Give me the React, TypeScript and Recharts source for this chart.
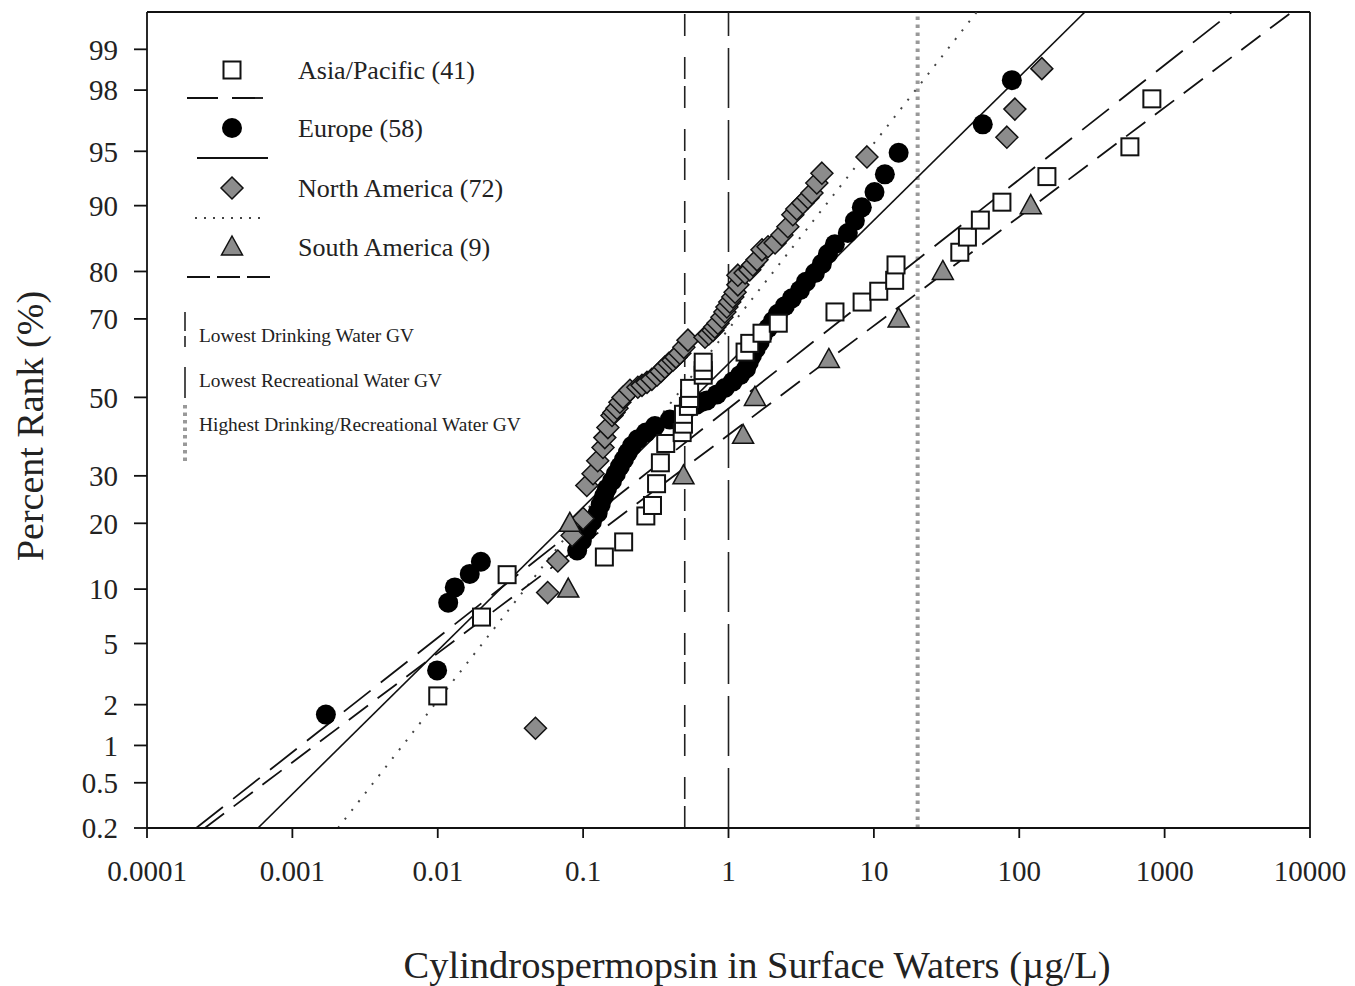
import React from 'react'
import { ComposedChart, XAxis, YAxis, Scatter, Line, ReferenceLine, Label } from 'recharts'

const SERIF = '"Liberation Serif", "Times New Roman", serif'

// concentration (µg/L) and percent rank (%) per region
const asiaConc = [0.01, 0.02, 0.03, 0.14, 0.19, 0.27, 0.3, 0.32, 0.34, 0.37, 0.48, 0.49, 0.49, 0.53, 0.54, 0.54, 0.67, 0.67, 0.67, 1.3, 1.4, 1.7, 2.2, 5.4, 8.3, 10.8, 13.9, 14.2, 39, 44, 54, 76, 155, 577, 817]
const asiaRank = [2.3, 7.1, 11.8, 14.3, 16.7, 21.4, 23.5, 28.2, 33.1, 37.9, 40.7, 42.9, 45.5, 47.6, 49.7, 52.4, 55.9, 57.1, 59.3, 61.9, 64.1, 66.6, 69.0, 71.6, 73.8, 76.1, 78.3, 81.2, 83.4, 85.8, 88.2, 90.4, 93.0, 95.3, 97.7]

const europeConc = [0.0017, 0.0099, 0.0118, 0.0131, 0.0166, 0.0198, 0.091, 0.098, 0.106, 0.115, 0.126, 0.132, 0.139, 0.146, 0.158, 0.168, 0.179, 0.191, 0.203, 0.217, 0.238, 0.27, 0.312, 0.395, 0.493, 0.543, 0.6, 0.65, 0.71, 0.832, 0.944, 1.07, 1.2, 1.32, 1.38, 1.45, 1.54, 1.64, 1.72, 1.87, 2.02, 2.19, 2.44, 2.73, 3.1, 3.41, 3.93, 4.39, 4.83, 5.39, 6.62, 7.4, 8.26, 10.1, 11.9, 14.8, 56.1, 88.9]
const europeRank = [1.7, 3.4, 8.5, 10.2, 11.9, 13.6, 15.3, 16.9, 18.6, 20.3, 22.0, 23.7, 25.4, 27.1, 28.8, 30.5, 32.2, 33.9, 35.6, 37.3, 39.0, 40.7, 42.4, 44.1, 45.8, 47.5, 48.0, 48.7, 49.2, 50.8, 52.5, 54.2, 55.9, 57.6, 59.3, 61.0, 62.7, 64.4, 66.1, 67.8, 69.5, 71.2, 72.9, 74.6, 76.3, 78.0, 79.7, 81.4, 83.1, 84.7, 86.4, 88.1, 89.8, 91.5, 93.2, 94.9, 96.6, 98.3]

const naConc = [0.047, 0.057, 0.067, 0.084, 0.1, 0.106, 0.117, 0.126, 0.137, 0.141, 0.148, 0.158, 0.163, 0.171, 0.179, 0.188, 0.21, 0.238, 0.254, 0.275, 0.297, 0.322, 0.343, 0.365, 0.389, 0.415, 0.435, 0.463, 0.493, 0.526, 0.689, 0.733, 0.782, 0.805, 0.845, 0.901, 0.944, 0.975, 1.02, 1.07, 1.11, 1.16, 1.16, 1.3, 1.4, 1.47, 1.57, 1.7, 1.87, 2.09, 2.33, 2.56, 2.77, 2.95, 3.25, 3.52, 3.75, 4.05, 4.39, 8.96, 82.2, 93.3, 143]
const naRank = [1.35, 9.6, 13.7, 17.8, 20.9, 27.8, 30.5, 33.6, 36.9, 39.4, 42.0, 45.2, 46.0, 47.1, 48.7, 50.0, 51.9, 52.7, 53.2, 54.0, 54.8, 55.9, 56.9, 58.0, 59.0, 59.8, 60.6, 61.6, 63.1, 64.9, 65.6, 66.4, 67.3, 68.1, 69.0, 70.4, 71.6, 72.7, 73.8, 74.9, 75.9, 77.4, 79.3, 79.7, 80.3, 81.2, 82.1, 83.8, 84.3, 84.9, 86.1, 87.3, 88.9, 89.6, 90.3, 90.9, 91.4, 92.4, 93.3, 94.6, 95.9, 97.3, 98.6]

const saConc = [0.079, 0.081, 0.49, 1.26, 1.52, 4.9, 14.8, 29.8, 120]
const saRank = [10, 20, 30, 40, 50, 60, 70, 80, 90]

// fitted lines, end points at the bottom and top of the axis
const fitRank = [0.2, 99.5]
const asiaFitConc = [0.000218, 2900]
const europeFitConc = [0.00058, 283]
const naFitConc = [0.00206, 51]
const saFitConc = [0.00025, 7500]

// guideline values (µg/L)
const GV_DRINKING_LOW = 0.5
const GV_RECREATIONAL_LOW = 1
const GV_HIGHEST = 20

const concTicks = [0.0001, 0.001, 0.01, 0.1, 1, 10, 100, 1000, 10000]
const concTickLabels = ['0.0001', '0.001', '0.01', '0.1', '1', '10', '100', '1000', '10000']
const rankTicks = [0.2, 0.5, 1, 2, 5, 10, 20, 30, 50, 70, 80, 90, 95, 98, 99]
const RANK_MIN = 0.2
const RANK_MAX = 99.5

// inverse standard normal (Acklam), percent -> z
function probit(pct: number) {
  const p = pct / 100
  const a = [-39.69683028665376, 220.9460984245205, -275.9285104469687, 138.357751867269, -30.66479806614716, 2.506628277459239]
  const b = [-54.47609879822406, 161.5858368580409, -155.6989798598866, 66.80131188771972, -13.28068155288572]
  const c = [-0.007784894002430293, -0.3223964580411365, -2.400758277161838, -2.549732539343734, 4.374664141464968, 2.938163982698783]
  const d = [0.007784695709041462, 0.3224671290700398, 2.445134137142996, 3.754408661907416]
  const tail = (q: number) =>
    (((((c[0] * q + c[1]) * q + c[2]) * q + c[3]) * q + c[4]) * q + c[5]) /
    ((((d[0] * q + d[1]) * q + d[2]) * q + d[3]) * q + 1)
  if (p < 0.02425) return tail(Math.sqrt(-2 * Math.log(p)))
  if (p > 1 - 0.02425) return -tail(Math.sqrt(-2 * Math.log(1 - p)))
  const q = p - 0.5
  const r = q * q
  return ((((((a[0] * r + a[1]) * r + a[2]) * r + a[3]) * r + a[4]) * r + a[5]) * q) /
    (((((b[0] * r + b[1]) * r + b[2]) * r + b[3]) * r + b[4]) * r + 1)
}

const toPoints = (conc: number[], rank: number[]) => conc.map((x, i) => ({ x, y: probit(rank[i]) }))

const asiaPts = toPoints(asiaConc, asiaRank)
const europePts = toPoints(europeConc, europeRank)
const naPts = toPoints(naConc, naRank)
const saPts = toPoints(saConc, saRank)
const asiaFit = toPoints(asiaFitConc, fitRank)
const europeFit = toPoints(europeFitConc, fitRank)
const naFit = toPoints(naFitConc, fitRank)
const saFit = toPoints(saFitConc, fitRank)

const Y_MIN = probit(RANK_MIN)
const Y_MAX = probit(RANK_MAX)
const yTicks = rankTicks.map(probit)

const GREY = '#8c8c8c'

const Square = ({ cx, cy }: any) => (
  <rect x={cx - 8.5} y={cy - 8.5} width={17} height={17} fill="#fff" stroke="#111" strokeWidth={2} />
)
const Dot = ({ cx, cy }: any) => <circle cx={cx} cy={cy} r={10} fill="#000" />
const Diamond = ({ cx, cy }: any) => (
  <path d={`M${cx} ${cy - 11}L${cx + 11} ${cy}L${cx} ${cy + 11}L${cx - 11} ${cy}Z`} fill={GREY} stroke="#111" strokeWidth={1.5} />
)
const Triangle = ({ cx, cy }: any) => (
  <path d={`M${cx} ${cy - 11}L${cx + 10.5} ${cy + 8}L${cx - 10.5} ${cy + 8}Z`} fill={GREY} stroke="#111" strokeWidth={1.5} />
)

const LegendOverlay = () => (
  <svg width={1355} height={986} style={{ position: 'absolute', left: 0, top: 0, pointerEvents: 'none' }}>
    <g fontFamily={SERIF} fill="#222" fontSize={26}>
      <Square cx={232} cy={70} />
      <text x={298} y={79}>Asia/Pacific (41)</text>
      <line x1={187} x2={263} y1={98} y2={98} stroke="#111" strokeWidth={1.8} strokeDasharray="31 14" />

      <Dot cx={232} cy={128} />
      <text x={298} y={137}>Europe (58)</text>
      <line x1={197} x2={268} y1={158} y2={158} stroke="#111" strokeWidth={1.8} />

      <Diamond cx={232} cy={188} />
      <text x={298} y={197}>North America (72)</text>
      <line x1={195} x2={266} y1={218} y2={218} stroke="#444" strokeWidth={2} strokeDasharray="2 7" />

      <Triangle cx={232} cy={247} />
      <text x={298} y={256}>South America (9)</text>
      <line x1={187} x2={270} y1={277} y2={277} stroke="#111" strokeWidth={2} strokeDasharray="23 7" />
    </g>
    <g fontFamily={SERIF} fill="#222" fontSize={19.4}>
      <line x1={185} x2={185} y1={312} y2={349} stroke="#222" strokeWidth={1.6} strokeDasharray="19 5 11 40" />
      <text x={199} y={342}>Lowest Drinking Water GV</text>
      <line x1={185} x2={185} y1={367} y2={398} stroke="#222" strokeWidth={1.6} />
      <text x={199} y={387}>Lowest Recreational Water GV</text>
      <line x1={185} x2={185} y1={405} y2={462} stroke="#999" strokeWidth={4} strokeDasharray="3.5 4" />
      <text x={199} y={431}>Highest Drinking/Recreational Water GV</text>
    </g>
  </svg>
)

const fmtRank = (v: number) => {
  const i = yTicks.findIndex(t => Math.abs(t - v) < 1e-6)
  return i >= 0 ? String(rankTicks[i]) : ''
}
const fmtConc = (v: number) => {
  const i = concTicks.findIndex(t => Math.abs(t - v) / t < 1e-6)
  return i >= 0 ? concTickLabels[i] : ''
}

const tickStyle = { fill: '#222', fontSize: 29, fontFamily: SERIF }

export default function App() {
  return (
    <div style={{ position: 'relative', width: 1355, height: 986, background: '#fff' }}>
      <style>{'body{margin:0;overflow:hidden;background:#fff}'}</style>
      <ComposedChart width={1355} height={986} margin={{ top: 12, right: 45, bottom: 0, left: 0 }}>
        <XAxis
          type="number"
          dataKey="x"
          scale="log"
          domain={[0.0001, 10000]}
          ticks={concTicks}
          tickFormatter={fmtConc}
          interval={0}
          allowDataOverflow
          height={158}
          tickSize={10}
          tickMargin={22}
          tick={tickStyle}
          axisLine={{ stroke: '#111', strokeWidth: 1.8 }}
          tickLine={{ stroke: '#111', strokeWidth: 1.8 }}
        >
          <Label
            content={() => (
              <text x={757} y={978} textAnchor="middle" fontFamily={SERIF} fontSize={38.5} fill="#222">
                Cylindrospermopsin in Surface Waters (µg/L)
              </text>
            )}
          />
        </XAxis>
        <YAxis
          type="number"
          dataKey="y"
          domain={[Y_MIN, Y_MAX]}
          ticks={yTicks}
          tickFormatter={fmtRank}
          interval={0}
          allowDataOverflow
          width={147}
          tickSize={13}
          tickMargin={16}
          tick={tickStyle}
          axisLine={{ stroke: '#111', strokeWidth: 1.8 }}
          tickLine={{ stroke: '#111', strokeWidth: 1.8 }}
        >
          <Label
            content={() => (
              <text x={43} y={426} transform="rotate(-90 43 426)" textAnchor="middle" fontFamily={SERIF} fontSize={38} fill="#222">
                Percent Rank (%)
              </text>
            )}
          />
        </YAxis>

        <ReferenceLine y={Y_MAX} stroke="#111" strokeWidth={1.8} />
        <ReferenceLine x={10000} stroke="#111" strokeWidth={1.8} />

        <ReferenceLine x={GV_DRINKING_LOW} stroke="#222" strokeWidth={1.6} strokeDasharray="22 7 22 21" />
        <ReferenceLine x={GV_RECREATIONAL_LOW} stroke="#222" strokeWidth={1.6} strokeDasharray="60 12" />
        <ReferenceLine x={GV_HIGHEST} stroke="#999" strokeWidth={4} strokeDasharray="3.5 4.5" />

        <Line data={asiaFit} dataKey="y" stroke="#111" strokeWidth={1.8} strokeDasharray="34 13" dot={false} isAnimationActive={false} />
        <Line data={europeFit} dataKey="y" stroke="#111" strokeWidth={1.6} dot={false} isAnimationActive={false} />
        <Line data={naFit} dataKey="y" stroke="#444" strokeWidth={2} strokeDasharray="2 9" dot={false} isAnimationActive={false} />
        <Line data={saFit} dataKey="y" stroke="#111" strokeWidth={1.8} strokeDasharray="24 12" dot={false} isAnimationActive={false} />

        <Scatter data={europePts} dataKey="y" shape={Dot} isAnimationActive={false} />
        <Scatter data={naPts} dataKey="y" shape={Diamond} isAnimationActive={false} />
        <Scatter data={saPts} dataKey="y" shape={Triangle} isAnimationActive={false} />
        <Scatter data={asiaPts} dataKey="y" shape={Square} isAnimationActive={false} />
      </ComposedChart>
      <LegendOverlay />
    </div>
  )
}
